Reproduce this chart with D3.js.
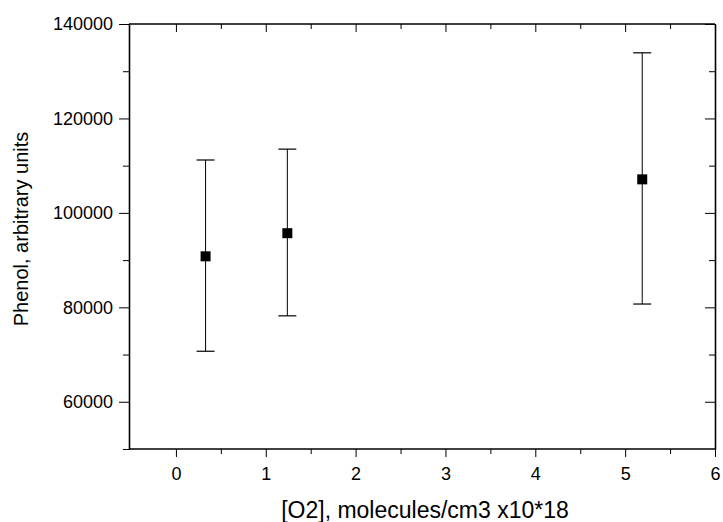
<!doctype html>
<html lang="en">
<head>
    <meta charset="utf-8"/>
    <title>Phenol vs O2</title>
    <script src="https://d3js.org/d3.v7.min.js"></script>
    <style>
        body { margin: 0; padding: 0; background: #fff; }
        svg { display: block; }
        .tick text { font-family: "Liberation Sans", Arial, sans-serif; font-size: 18px; fill: #000; }
        .axis path, .axis line { stroke: #000; }
        .title { font-family: "Liberation Sans", Arial, sans-serif; fill: #000; }
    </style>
</head>
<body>
<script>
    // data
    const o2 = [0.33, 1.24, 5.19];
    const phenol = [90800, 95700, 107100];
    const errLow = [70700, 78200, 80700];
    const errHigh = [111200, 113500, 133900];

    const xTicks = [0, 1, 2, 3, 4, 5, 6];
    const xMinor = [-0.5, 0.5, 1.5, 2.5, 3.5, 4.5, 5.5];
    const yTicks = [60000, 80000, 100000, 120000, 140000];
    const yMinor = [50000, 70000, 90000, 110000, 130000];

    const width = 723, height = 522;
    const plotL = 129, plotR = 715, plotT = 24, plotB = 449;

    const svg = d3.select("body").append("svg")
        .attr("width", width)
        .attr("height", height);

    const x = d3.scaleLinear().domain([-0.5, 6]).range([plotL + 2, plotR]);
    const y = d3.scaleLinear().domain([50000, 140000]).range([plotB, plotT]);

    // bottom axis, ticks outward
    svg.append("g").attr("class", "axis")
        .attr("transform", `translate(0,${plotB})`)
        .call(d3.axisBottom(x).tickValues(xTicks).tickSize(8).tickSizeOuter(0).tickPadding(10).tickFormat(d3.format("d")))
        .call(g => g.select(".domain").attr("stroke-width", 1.6).attr("d", `M${plotL},0H${plotR}`));
    svg.append("g").attr("class", "axis")
        .attr("transform", `translate(0,${plotB})`)
        .call(d3.axisBottom(x).tickValues(xMinor.slice(1)).tickSize(5).tickFormat(""))
        .call(g => g.select(".domain").remove());

    // top axis, ticks inward
    svg.append("g").attr("class", "axis")
        .attr("transform", `translate(0,${plotT})`)
        .call(d3.axisBottom(x).tickValues(xTicks).tickSize(8).tickSizeOuter(0).tickFormat(""))
        .call(g => g.select(".domain").attr("stroke-width", 1.6).attr("d", `M${plotL},0H${plotR}`));
    svg.append("g").attr("class", "axis")
        .attr("transform", `translate(0,${plotT})`)
        .call(d3.axisBottom(x).tickValues(xMinor.slice(1)).tickSize(5).tickFormat(""))
        .call(g => g.select(".domain").remove());

    // left axis, ticks outward
    svg.append("g").attr("class", "axis")
        .attr("transform", `translate(${plotL},0)`)
        .call(d3.axisLeft(y).tickValues(yTicks).tickSize(10).tickSizeOuter(0).tickPadding(6).tickFormat(d3.format("d")))
        .call(g => g.select(".domain").attr("stroke-width", 1.6));
    svg.append("g").attr("class", "axis")
        .attr("transform", `translate(${plotL},0)`)
        .call(d3.axisLeft(y).tickValues(yMinor).tickSize(6).tickFormat(""))
        .call(g => g.select(".domain").remove());

    // right axis, ticks inward
    svg.append("g").attr("class", "axis")
        .attr("transform", `translate(${plotR},0)`)
        .call(d3.axisLeft(y).tickValues(yTicks).tickSize(10).tickSizeOuter(0).tickFormat(""))
        .call(g => g.select(".domain").attr("stroke-width", 1.6));
    svg.append("g").attr("class", "axis")
        .attr("transform", `translate(${plotR},0)`)
        .call(d3.axisLeft(y).tickValues(yMinor.slice(1)).tickSize(6).tickFormat(""))
        .call(g => g.select(".domain").remove());

    const pts = o2.map((d, i) => ({x: d, y: phenol[i], lo: errLow[i], hi: errHigh[i]}));

    // error bars
    const eb = svg.append("g").selectAll("g").data(pts).enter().append("g");
    eb.append("line")
        .attr("x1", d => x(d.x)).attr("x2", d => x(d.x))
        .attr("y1", d => y(d.lo)).attr("y2", d => y(d.hi))
        .attr("stroke", "#000").attr("stroke-width", 1);
    eb.append("line")
        .attr("x1", d => x(d.x) - 9).attr("x2", d => x(d.x) + 9)
        .attr("y1", d => y(d.hi)).attr("y2", d => y(d.hi))
        .attr("stroke", "#000").attr("stroke-width", 1.2);
    eb.append("line")
        .attr("x1", d => x(d.x) - 9).attr("x2", d => x(d.x) + 9)
        .attr("y1", d => y(d.lo)).attr("y2", d => y(d.lo))
        .attr("stroke", "#000").attr("stroke-width", 1.2);

    // square markers
    svg.append("g").selectAll("rect").data(pts).enter().append("rect")
        .attr("x", d => x(d.x) - 5)
        .attr("y", d => y(d.y) - 5)
        .attr("width", 10).attr("height", 10)
        .attr("fill", "#000");

    // axis titles
    svg.append("text").attr("class", "title")
        .attr("x", 425)
        .attr("y", 518)
        .attr("text-anchor", "middle")
        .style("font-size", "23px")
        .text("[O2], molecules/cm3 x10*18");

    svg.append("text").attr("class", "title")
        .attr("transform", "translate(28,229) rotate(-90)")
        .attr("text-anchor", "middle")
        .style("font-size", "20px")
        .text("Phenol, arbitrary units");
</script>
</body>
</html>
